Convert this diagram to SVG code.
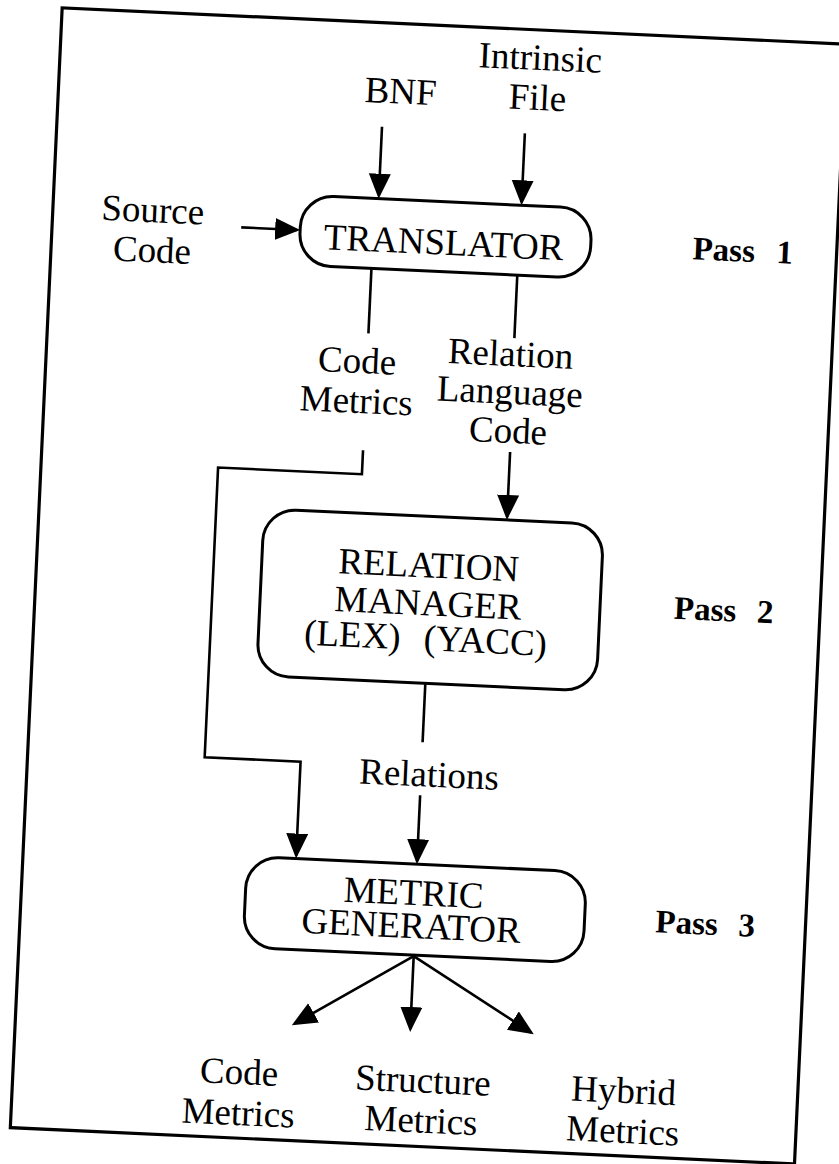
<svg xmlns="http://www.w3.org/2000/svg" width="839" height="1164" viewBox="0 0 839 1164">
<style>
  .lbl{font-family:"Liberation Serif","Times New Roman",serif;font-size:37px;fill:#000;text-anchor:middle}
  .pass{font-family:"Liberation Serif","Times New Roman",serif;font-size:33px;font-weight:bold;fill:#000}
  .box{fill:none;stroke:#000;stroke-width:3}
  .frame{fill:none;stroke:#000;stroke-width:3.2}
  .wire{fill:none;stroke:#000;stroke-width:2.6}
  .arrow{marker-end:url(#ah)}
</style>
<defs>
  <marker id="ah" markerUnits="userSpaceOnUse" markerWidth="28" markerHeight="24" refX="22" refY="11" orient="auto">
    <path d="M0,0 L25,11 L0,22 z" fill="#000"/>
  </marker>
</defs>
<rect width="839" height="1164" fill="#fff"/>
<!-- whole sheet is tilted slightly clockwise -->
<g transform="rotate(2.65 420 582)">
  <rect class="frame" x="36" y="25" width="785" height="1121"/>

  <!-- inputs -->
  <g id="in-bnf"><text class="lbl" x="378" y="105">BNF</text></g>
  <g id="in-intrinsic">
    <text class="lbl" x="516" y="65">Intrinsic</text>
    <text class="lbl" x="515" y="105">File</text>
  </g>
  <g id="in-source">
    <text class="lbl" x="136" y="235">Source</text>
    <text class="lbl" x="137" y="275">Code</text>
  </g>

  <!-- pass 1 -->
  <g id="translator">
    <rect class="box" x="284" y="201" width="291" height="70" rx="32" ry="32"/>
    <text class="lbl" x="428" y="254">TRANSLATOR</text>
  </g>
  <g id="pass1"><text class="pass" x="677" y="247">Pass<tspan x="761">1</tspan></text></g>

  <g id="code-metrics-mid">
    <text class="lbl" x="347" y="376">Code</text>
    <text class="lbl" x="348" y="416">Metrics</text>
  </g>
  <g id="relation-language-code">
    <text class="lbl" x="500" y="362">Relation</text>
    <text class="lbl" x="501" y="400">Language</text>
    <text class="lbl" x="501" y="439">Code</text>
  </g>

  <!-- pass 2 -->
  <g id="relation-manager">
    <rect class="box" x="261" y="516" width="340" height="167" rx="32" ry="32"/>
    <text class="lbl" x="428" y="577">RELATION</text>
    <text class="lbl" x="429" y="615">MANAGER</text>
    <text class="lbl" y="650"><tspan x="355">(LEX)</tspan><tspan x="488">(YACC)</tspan></text>
  </g>
  <g id="pass2"><text class="pass" x="675" y="607">Pass<tspan x="758">2</tspan></text></g>

  <g id="relations"><text class="lbl" x="438" y="786">Relations</text></g>

  <!-- pass 3 -->
  <g id="metric-generator">
    <rect class="box" x="260" y="864" width="340" height="91" rx="32" ry="32"/>
    <text class="lbl" x="428" y="905">METRIC</text>
    <text class="lbl" x="427" y="938">GENERATOR</text>
  </g>
  <g id="pass3"><text class="pass" x="671" y="921">Pass<tspan x="754">3</tspan></text></g>

  <!-- outputs -->
  <g id="out-code">
    <text class="lbl" x="262" y="1092">Code</text>
    <text class="lbl" x="263" y="1133">Metrics</text>
  </g>
  <g id="out-structure">
    <text class="lbl" x="446" y="1092">Structure</text>
    <text class="lbl" x="446" y="1132">Metrics</text>
  </g>
  <g id="out-hybrid">
    <text class="lbl" x="647" y="1093">Hybrid</text>
    <text class="lbl" x="648" y="1133">Metrics</text>
  </g>

  <!-- connectors -->
  <g id="connectors">
    <line class="wire arrow" x1="361" y1="129" x2="361" y2="198"/>
    <line class="wire arrow" x1="504" y1="129" x2="504" y2="198"/>
    <line class="wire arrow" x1="225" y1="236" x2="281" y2="236"/>
    <line class="wire" x1="357" y1="271" x2="357" y2="336"/>
    <line class="wire" x1="503" y1="271" x2="503" y2="334"/>
    <polyline class="wire arrow" points="357,453 357,477 213,477 213,767 309,767 309,861"/>
    <line class="wire arrow" x1="504" y1="448" x2="504" y2="513"/>
    <line class="wire" x1="430" y1="683" x2="430" y2="742"/>
    <line class="wire arrow" x1="430" y1="795" x2="430" y2="861"/>
    <line class="wire arrow" x1="431" y1="956" x2="315" y2="1029"/>
    <line class="wire arrow" x1="431" y1="956" x2="431" y2="1029"/>
    <line class="wire arrow" x1="431" y1="956" x2="552" y2="1027"/>
  </g>
</g>
</svg>
